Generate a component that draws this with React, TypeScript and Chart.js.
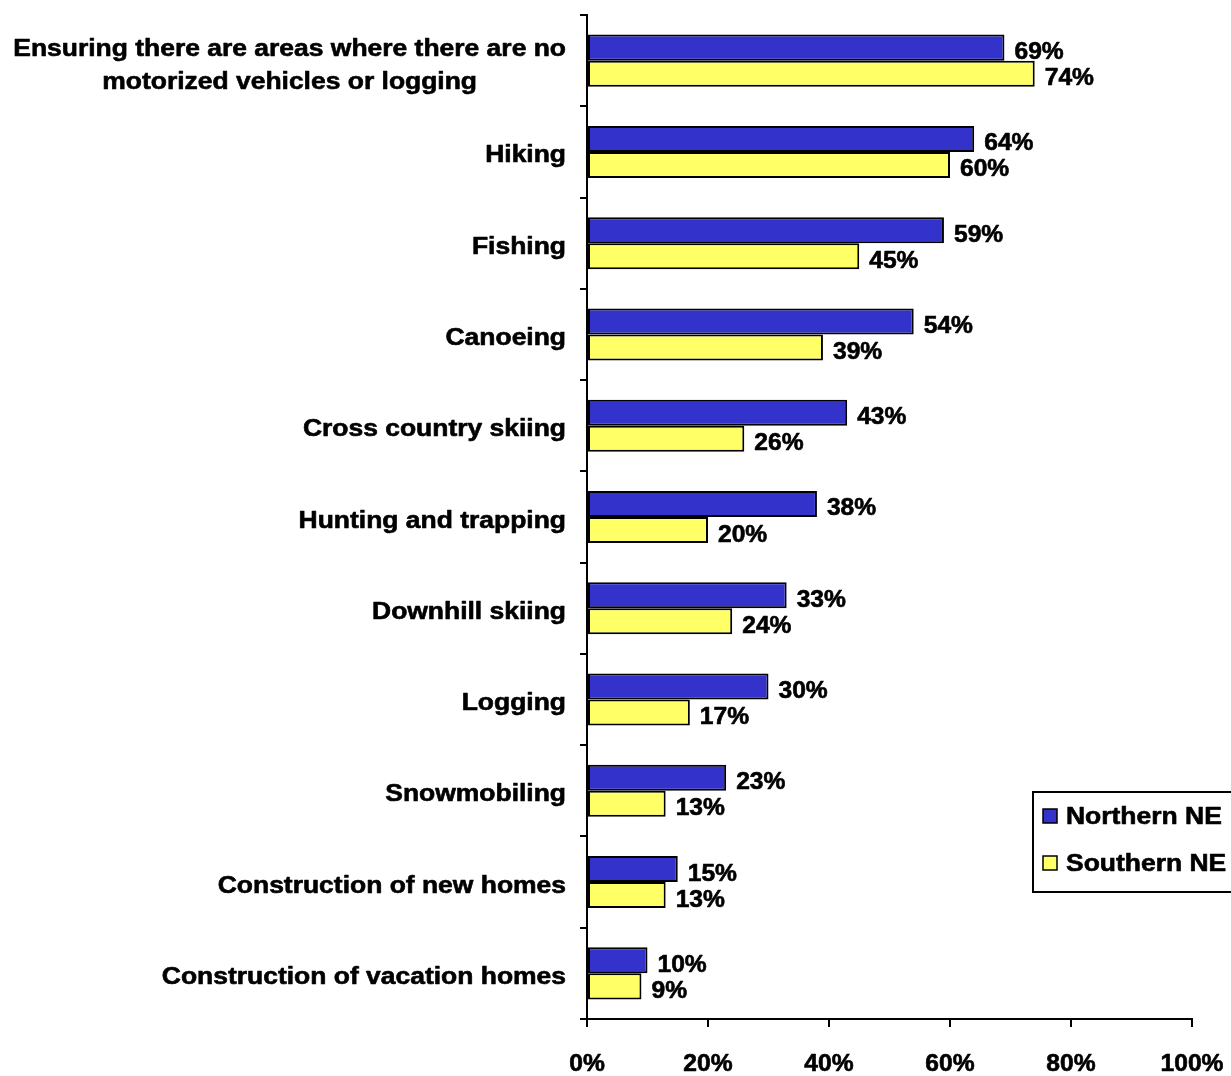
import React, { useEffect, useRef } from "react";
import { Chart, registerables } from "chart.js";

Chart.register(...registerables);

const categories: (string | string[])[] = [
  ["Ensuring there are areas where there are no", "motorized vehicles or logging"],
  "Hiking",
  "Fishing",
  "Canoeing",
  "Cross country skiing",
  "Hunting and trapping",
  "Downhill skiing",
  "Logging",
  "Snowmobiling",
  "Construction of new homes",
  "Construction of vacation homes",
];

const northernNE = [69, 64, 59, 54, 43, 38, 33, 30, 23, 15, 10];
const southernNE = [74, 60, 45, 39, 26, 20, 24, 17, 13, 13, 9];

const seriesNames = ["Northern NE", "Southern NE"];
const seriesColors = ["#3333CC", "#FFFF66"];

const xTickValues = [0, 20, 40, 60, 80, 100];

const FONT = 'bold 23px "Liberation Sans", Arial, sans-serif';
const SX_TEXT = 1.15;
const SX_NUM = 1.07;

function drawText(
  ctx: CanvasRenderingContext2D,
  text: string,
  x: number,
  y: number,
  align: CanvasTextAlign,
  sx: number
) {
  ctx.save();
  ctx.translate(x, y);
  ctx.scale(sx, 1);
  ctx.font = FONT;
  ctx.fillStyle = "#000";
  ctx.strokeStyle = "#000";
  ctx.lineWidth = 0.6;
  ctx.lineJoin = "round";
  ctx.textAlign = align;
  ctx.textBaseline = "alphabetic";
  ctx.fillText(text, 0, 0);
  ctx.strokeText(text, 0, 0);
  ctx.restore();
}

const textPlugin = {
  id: "customText",
  afterDraw(chart: any) {
    const ctx: CanvasRenderingContext2D = chart.ctx;
    const yScale = chart.scales.y;
    const xScale = chart.scales.x;

    // category labels
    categories.forEach((cat, i) => {
      const lines = Array.isArray(cat) ? cat : [cat];
      const cy = yScale.getPixelForValue(i);
      ctx.save();
      ctx.font = FONT;
      const widths = lines.map((l) => ctx.measureText(l).width * SX_TEXT);
      ctx.restore();
      const maxW = Math.max(...widths);
      const right = yScale.right - 21;
      const n = lines.length;
      lines.forEach((l, j) => {
        const y = cy + 10.5 + (j - (n - 1) / 2) * 33 + (n > 1 ? 1 : 0);
        drawText(ctx, l, right - maxW / 2, y, "center", SX_TEXT);
      });
    });

    // x tick labels
    xTickValues.forEach((v) => {
      const px = xScale.getPixelForValue(v);
      drawText(ctx, v + "%", px, xScale.top + 51.5, "center", SX_NUM);
    });

    // data labels
    chart.data.datasets.forEach((ds: any, di: number) => {
      const meta = chart.getDatasetMeta(di);
      meta.data.forEach((el: any, i: number) => {
        drawText(ctx, ds.data[i] + "%", el.x + 10, el.y + 11.5, "left", SX_NUM);
      });
    });

    // legend
    ctx.save();
    ctx.strokeStyle = "#000";
    ctx.lineWidth = 2;
    ctx.strokeRect(1033, 792, 230, 100);
    ctx.restore();
    const rows = [816, 863];
    chart.data.datasets.forEach((ds: any, di: number) => {
      const cy = rows[di];
      ctx.save();
      ctx.fillStyle = ds.backgroundColor;
      ctx.fillRect(1043, cy - 7, 14, 14);
      ctx.strokeStyle = "#000";
      ctx.lineWidth = 1.5;
      ctx.strokeRect(1043, cy - 7, 14, 14);
      ctx.restore();
      drawText(ctx, ds.label, 1066, cy + 8, "left", SX_TEXT);
    });
  },
};

export default function App() {
  const ref = useRef<HTMLCanvasElement | null>(null);

  useEffect(() => {
    if (!ref.current) return;
    const chart = new Chart(ref.current, {
      type: "bar",
      data: {
        labels: categories.map((c) => (Array.isArray(c) ? c.join(" ") : c)),
        datasets: [
          {
            label: seriesNames[0],
            data: northernNE,
            backgroundColor: seriesColors[0],
            borderColor: "#000",
            borderWidth: 2,
            borderSkipped: false,
            categoryPercentage: 0.57,
            barPercentage: 1,
          },
          {
            label: seriesNames[1],
            data: southernNE,
            backgroundColor: seriesColors[1],
            borderColor: "#000",
            borderWidth: 2,
            borderSkipped: false,
            categoryPercentage: 0.57,
            barPercentage: 1,
          },
        ],
      },
      options: {
        indexAxis: "y",
        animation: false,
        responsive: false,
        maintainAspectRatio: false,
        layout: { padding: { top: 15, right: 39, left: 0, bottom: 0 } },
        plugins: {
          legend: { display: false },
          tooltip: { enabled: false },
        },
        scales: {
          x: {
            min: 0,
            max: 100,
            ticks: { stepSize: 20, display: false },
            grid: {
              drawOnChartArea: false,
              drawTicks: true,
              tickLength: 8,
              color: "#000",
              lineWidth: 2,
            },
            border: { display: true, color: "#000", width: 2 },
            afterFit: (s: any) => {
              s.height = 57;
            },
          },
          y: {
            type: "category",
            offset: true,
            ticks: { display: false },
            grid: {
              offset: true,
              drawOnChartArea: false,
              drawTicks: true,
              tickLength: 7,
              color: "#000",
              lineWidth: 2,
            },
            border: { display: true, color: "#000", width: 2 },
            afterFit: (s: any) => {
              s.width = 587;
            },
          },
        },
      },
      plugins: [textPlugin],
    } as any);
    return () => chart.destroy();
  }, []);

  return (
    <div style={{ position: "absolute", left: 0, top: 0, width: 1231, height: 1076, background: "#fff" }}>
      <canvas ref={ref} width={1231} height={1076} style={{ display: "block", width: 1231, height: 1076 }} />
    </div>
  );
}
